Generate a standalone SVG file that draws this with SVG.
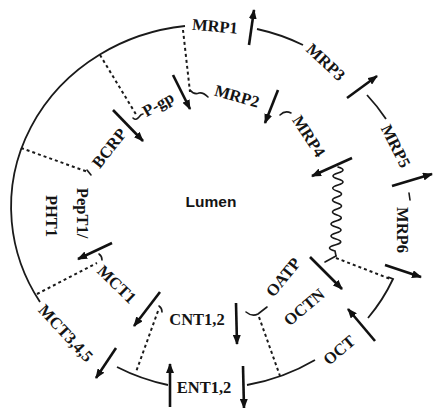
<svg xmlns="http://www.w3.org/2000/svg" width="433" height="408" viewBox="0 0 433 408">
  <style>
    .lbl { font-family: "Liberation Serif", "Times New Roman", serif; font-weight: bold; font-size: 16.5px; fill: #141414; }
    .lum { font-family: "Liberation Sans", Arial, sans-serif; font-weight: bold; font-size: 15.5px; fill: #141414; }
    .mem { fill: none; stroke: #1a1a1a; stroke-width: 1.8; }
    .dot { fill: none; stroke: #1a1a1a; stroke-width: 2; stroke-dasharray: 3 3; }
    .hook { fill: none; stroke: #1a1a1a; stroke-width: 1.6; stroke-linecap: round; }
    .arr { fill: none; stroke: #111; stroke-width: 2.6; marker-end: url(#head); }
  </style>
  <defs>
    <marker id="head" viewBox="0 0 10 8" refX="9" refY="4" markerWidth="10" markerHeight="8" markerUnits="userSpaceOnUse" orient="auto">
      <path d="M0,0 L10,4 L0,8 Z" fill="#111"/>
    </marker>
  </defs>
  <rect width="433" height="408" fill="#ffffff"/>

  <!-- membranes, junction lines and transport arrows -->
  <g id="connectors">
    <!-- basolateral membrane segments -->
    <path class="mem" d="M185,26 A196,182 0 0 0 40,302"/>
    <path class="mem" d="M257,29 A196,182 0 0 1 303,45"/>
    <path class="mem" d="M367,95 A196,182 0 0 1 386,119"/>
    <path class="mem" d="M117,367 A196,182 0 0 0 168,385"/>
    <path class="mem" d="M247,385 A196,182 0 0 0 315,360"/>
    <path class="mem" d="M368,318 A196,182 0 0 0 393,279 L388,277"/>

    <!-- junctions between cells -->
    <path class="dot" d="M183,30 L190,92"/>
    <path class="dot" d="M100,55 L137,116"/>
    <path class="dot" d="M21,148 L88,172"/>
    <path class="dot" d="M37,294 L97,263"/>
    <path class="dot" d="M158,311 L136,372"/>
    <path class="dot" d="M259,317 L280,376"/>
    <path class="dot" d="M336,258 L393,280"/>

    <!-- small hooks at junction ends -->
    <path class="hook" d="M190,90 Q194,95 199,93 Q203,92 208,97"/>
    <path class="hook" d="M133,118 Q136,121 139,117 Q141,114 143,114"/>
    <path class="hook" d="M280,115 Q285,110 291,113"/>
    <path class="hook" d="M87,170 L91,175"/>
    <path class="hook" d="M159,306 Q162,308 162,312"/>
    <path class="hook" d="M99,254 Q102,256 102,260"/>
    <path class="hook" d="M246,312 Q252,317 258,314 L267,307"/>
    <path class="hook" d="M336,256 L325,262"/>
    <path class="hook" d="M409,193 L410,200"/>

    <!-- wavy line -->
    <path class="hook" stroke-width="1.7" d="M338,167 Q348,170 338,173 T338,179 T338,185 T337,191 T337,197 T337,203 T337,209 T337,215 T336,221 T336,227 T336,233 T336,239 T335,245 T335,251 L336,256"/>

    <!-- transport arrows -->
    <path class="arr" d="M249,45 L254,10"/>
    <path class="arr" d="M347,98 L377,76"/>
    <path class="arr" d="M392,186 L432,174"/>
    <path class="arr" d="M385,265 L421,277"/>
    <path class="arr" d="M375,341 L348,309"/>
    <path class="arr" d="M310,257 L342,289"/>
    <path class="arr" d="M352,158 L312,176"/>
    <path class="arr" d="M278,90 L265,123"/>
    <path class="arr" d="M173,75 L190,109"/>
    <path class="arr" d="M113,110 L143,141"/>
    <path class="arr" d="M112,243 L78,259"/>
    <path class="arr" d="M160,292 L134,326"/>
    <path class="arr" d="M116,348 L96,378"/>
    <path class="arr" d="M236,303 L237,344"/>
    <path class="arr" d="M170,407 L170,364"/>
    <path class="arr" d="M243,366 L244,408"/>
  </g>

  <!-- transporter labels -->
  <g id="MRP1"><text class="lbl" text-anchor="middle" dy="0.35em" transform="translate(215,26) rotate(5)">MRP1</text></g>
  <g id="MRP3"><text class="lbl" text-anchor="middle" dy="0.35em" transform="translate(326,62) rotate(43)">MRP3</text></g>
  <g id="MRP5"><text class="lbl" text-anchor="middle" dy="0.35em" transform="translate(396,146) rotate(63)">MRP5</text></g>
  <g id="MRP6"><text class="lbl" text-anchor="middle" dy="0.35em" transform="translate(403,230) rotate(90)">MRP6</text></g>
  <g id="MRP2"><text class="lbl" text-anchor="middle" dy="0.35em" transform="translate(237,96) rotate(16)">MRP2</text></g>
  <g id="MRP4"><text class="lbl" text-anchor="middle" dy="0.35em" transform="translate(309,136) rotate(57)">MRP4</text></g>
  <g id="Pgp"><text class="lbl" text-anchor="middle" dy="0.35em" transform="translate(158,104) rotate(-30)">P-gp</text></g>
  <g id="BCRP"><text class="lbl" text-anchor="middle" dy="0.35em" transform="translate(109,148) rotate(-52)">BCRP</text></g>
  <g id="PepT1"><text class="lbl" text-anchor="middle" dy="0.35em" transform="translate(83,213) rotate(90)">PepT1/</text></g>
  <g id="PHT1"><text class="lbl" text-anchor="middle" dy="0.35em" transform="translate(52,216) rotate(90)">PHT1</text></g>
  <g id="MCT1"><text class="lbl" text-anchor="middle" dy="0.35em" transform="translate(117,284) rotate(44)">MCT1</text></g>
  <g id="MCT345"><text class="lbl" text-anchor="middle" dy="0.35em" transform="translate(66,333) rotate(47)">MCT3,4,5</text></g>
  <g id="CNT"><text class="lbl" text-anchor="middle" dy="0.35em" transform="translate(197,319)">CNT1,2</text></g>
  <g id="ENT"><text class="lbl" text-anchor="middle" dy="0.35em" transform="translate(204,387)">ENT1,2</text></g>
  <g id="OATP"><text class="lbl" text-anchor="middle" dy="0.35em" transform="translate(283,277) rotate(-51)">OATP</text></g>
  <g id="OCTN"><text class="lbl" text-anchor="middle" dy="0.35em" transform="translate(304,307) rotate(-40)">OCTN</text></g>
  <g id="OCT"><text class="lbl" text-anchor="middle" dy="0.35em" transform="translate(339,350) rotate(-40)">OCT</text></g>
  <g id="Lumen"><text class="lum" text-anchor="middle" dy="0.35em" transform="translate(211,202)">Lumen</text></g>
</svg>
